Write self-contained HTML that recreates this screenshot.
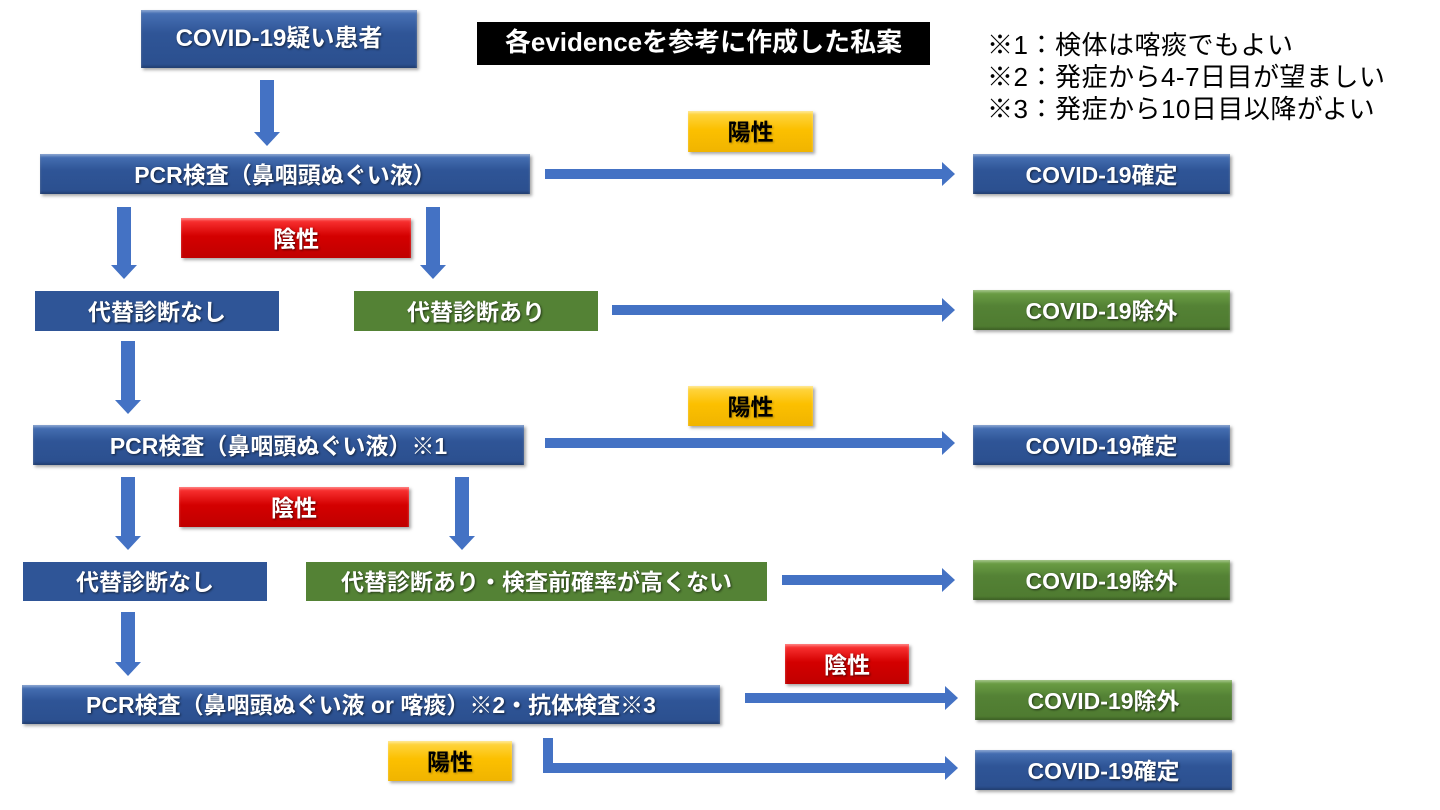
<!DOCTYPE html>
<html><head><meta charset="utf-8"><style>
body{margin:0;width:1440px;height:810px;background:#fff;position:relative;overflow:hidden;font-family:"Liberation Sans","Noto Sans CJK JP",sans-serif}
.b{position:absolute;display:flex;align-items:center;justify-content:center;color:#fff;font-weight:bold;font-size:23px;padding-bottom:3px;text-shadow:1px 1px 2px rgba(0,0,0,.6);box-sizing:border-box;white-space:nowrap}
.bl{background:linear-gradient(#4a74b8,#2f5597 40%,#2b4f8e);box-shadow:inset 0 2px 2px rgba(255,255,255,.35),inset 0 -2px 2px rgba(0,0,0,.2),2px 2px 3px rgba(0,0,0,.35)}
.gr{background:linear-gradient(#70a448,#548235 40%,#4e7a30);box-shadow:inset 0 2px 2px rgba(255,255,255,.35),inset 0 -2px 2px rgba(0,0,0,.2),2px 2px 3px rgba(0,0,0,.35)}
.rd{background:linear-gradient(#ff3a3a,#d40000 45%,#c00000);box-shadow:inset 0 2px 2px rgba(255,255,255,.35),2px 2px 3px rgba(0,0,0,.35)}
.ye{background:linear-gradient(#ffd84a,#fcc000 45%,#f0b400);color:#000;text-shadow:1px 1px 2px rgba(0,0,0,.3);box-shadow:inset 0 2px 2px rgba(255,255,255,.4),2px 2px 3px rgba(0,0,0,.35)}
.fb{background:#2f5597}.fg{background:#548235}
.h{position:absolute;height:10px;background:#4472c4}
.h::after{content:"";position:absolute;right:-12px;top:-7px;border-left:13px solid #4472c4;border-top:12px solid transparent;border-bottom:12px solid transparent}
.v{position:absolute;width:14px;background:#4472c4}
.v::after{content:"";position:absolute;bottom:-13px;left:-6px;border-top:14px solid #4472c4;border-left:13px solid transparent;border-right:13px solid transparent}
.n{position:absolute;left:987px;font-size:26px;color:#000;line-height:32px;letter-spacing:0.5px}
</style></head><body>
<div class="b bl" style="left:141px;top:10px;width:276px;height:58px;font-size:24px;padding-bottom:8px">COVID-19疑い患者</div>
<div class="b" style="left:477px;top:22px;width:453px;height:43px;background:#000;font-size:26px;padding-bottom:6px">各evidenceを参考に作成した私案</div>
<div class="n" style="top:29px">※1：検体は喀痰でもよい<br>※2：発症から4-7日目が望ましい<br>※3：発症から10日目以降がよい</div>

<div class="v" style="left:260px;top:80px;height:53px"></div>
<div class="b bl" style="left:40px;top:154px;width:490px;height:40px">PCR検査（鼻咽頭ぬぐい液）</div>
<div class="b ye" style="left:688px;top:111px;width:125px;height:41px">陽性</div>
<div class="h" style="left:545px;top:169px;width:398px"></div>
<div class="b bl" style="left:973px;top:154px;width:257px;height:40px">COVID-19確定</div>
<div class="v" style="left:117px;top:207px;height:59px"></div>
<div class="v" style="left:426px;top:207px;height:59px"></div>
<div class="b rd" style="left:181px;top:218px;width:230px;height:40px">陰性</div>
<div class="b fb" style="left:35px;top:291px;width:244px;height:40px">代替診断なし</div>
<div class="b fg" style="left:354px;top:291px;width:244px;height:40px">代替診断あり</div>
<div class="h" style="left:612px;top:305px;width:331px"></div>
<div class="b gr" style="left:973px;top:290px;width:257px;height:40px">COVID-19除外</div>

<div class="v" style="left:121px;top:341px;height:60px"></div>
<div class="b ye" style="left:688px;top:386px;width:125px;height:40px">陽性</div>
<div class="b bl" style="left:33px;top:425px;width:491px;height:40px">PCR検査（鼻咽頭ぬぐい液）※1</div>
<div class="h" style="left:545px;top:438px;width:398px"></div>
<div class="b bl" style="left:973px;top:425px;width:257px;height:40px">COVID-19確定</div>
<div class="v" style="left:121px;top:477px;height:60px"></div>
<div class="v" style="left:455px;top:477px;height:60px"></div>
<div class="b rd" style="left:179px;top:487px;width:230px;height:40px">陰性</div>
<div class="b fb" style="left:23px;top:562px;width:244px;height:39px">代替診断なし</div>
<div class="b fg" style="left:306px;top:562px;width:461px;height:39px">代替診断あり・検査前確率が高くない</div>
<div class="h" style="left:782px;top:575px;width:161px"></div>
<div class="b gr" style="left:973px;top:560px;width:257px;height:40px">COVID-19除外</div>

<div class="v" style="left:121px;top:612px;height:51px"></div>
<div class="b bl" style="left:22px;top:685px;width:698px;height:39px">PCR検査（鼻咽頭ぬぐい液 or 喀痰）※2・抗体検査※3</div>
<div class="b rd" style="left:785px;top:644px;width:124px;height:40px">陰性</div>
<div class="h" style="left:745px;top:693px;width:201px"></div>
<div class="b gr" style="left:975px;top:680px;width:257px;height:40px">COVID-19除外</div>
<div class="b ye" style="left:388px;top:741px;width:124px;height:40px">陽性</div>
<div style="position:absolute;left:543px;top:738px;width:10px;height:35px;background:#4472c4"></div>
<div class="h" style="left:543px;top:763px;width:403px"></div>
<div class="b bl" style="left:975px;top:750px;width:257px;height:40px">COVID-19確定</div>
</body></html>
